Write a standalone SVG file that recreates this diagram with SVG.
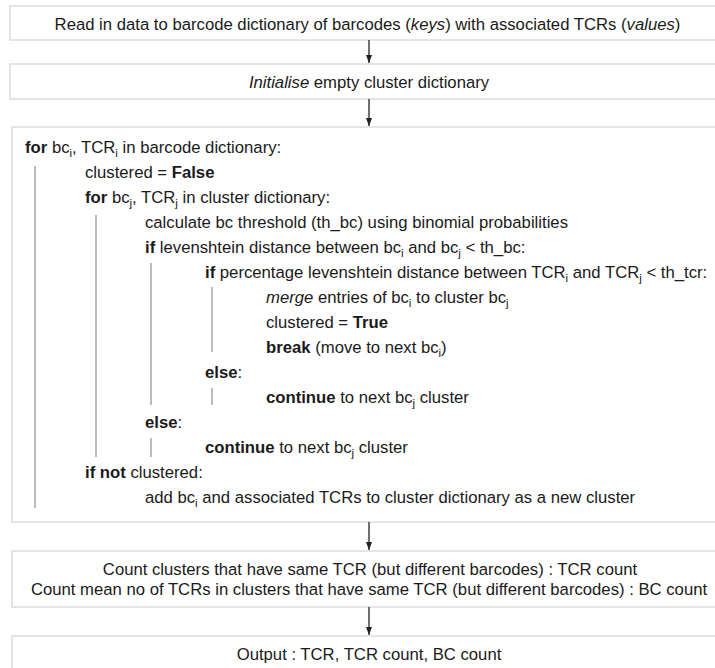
<svg xmlns="http://www.w3.org/2000/svg" width="715" height="668" viewBox="0 0 715 668">
<defs>
<marker id="ah" viewBox="0 0 8 10" refX="8" refY="5" markerWidth="8" markerHeight="10" markerUnits="userSpaceOnUse" orient="auto">
<path d="M0,2 L8,5 L0,8 Z" fill="#222"/>
</marker>
</defs>
<style>
.box{fill:#fff;stroke:#dcdcdc;stroke-width:1.5}
.t{font-family:"Liberation Sans",Arial,sans-serif;font-size:16.7px;fill:#1a1a1a}
.c{text-anchor:middle}
.b{font-weight:bold}
.i{font-style:italic}
.s{font-size:11.5px}
.g{stroke:#909090;stroke-width:1.2;fill:none}
.conn{stroke:#222;stroke-width:1.3;fill:none}
</style>
<rect width="715" height="668" fill="#fff"/>
<g id="n1">
<rect class="box" x="10" y="6" width="710" height="34"/>
<text class="t c" x="367.5" y="30">Read in data to barcode dictionary of barcodes (<tspan class="i">keys</tspan>) with associated TCRs (<tspan class="i">values</tspan>)</text>
</g>
<g id="n2">
<rect class="box" x="10" y="64" width="710" height="35"/>
<text class="t c" x="369" y="88"><tspan class="i">Initialise</tspan> empty cluster dictionary</text>
</g>
<g id="n3">
<rect class="box" x="12" y="127" width="708" height="395"/>
<text class="t" x="25" y="153"><tspan class="b">for</tspan> bc<tspan class="s" dy="4">i</tspan><tspan dy="-4">, TCR</tspan><tspan class="s" dy="4">i</tspan><tspan dy="-4"> in barcode dictionary:</tspan></text>
<text class="t" x="85" y="178">clustered = <tspan class="b">False</tspan></text>
<text class="t" x="85" y="203"><tspan class="b">for</tspan> bc<tspan class="s" dy="4">j</tspan><tspan dy="-4">, TCR</tspan><tspan class="s" dy="4">j</tspan><tspan dy="-4"> in cluster dictionary:</tspan></text>
<text class="t" x="145" y="228">calculate bc threshold (th_bc) using binomial probabilities</text>
<text class="t" x="145" y="253"><tspan class="b">if</tspan> levenshtein distance between bc<tspan class="s" dy="4">i</tspan><tspan dy="-4"> and bc</tspan><tspan class="s" dy="4">j</tspan><tspan dy="-4"> &lt; th_bc:</tspan></text>
<text class="t" x="205" y="278"><tspan class="b">if</tspan> percentage levenshtein distance between TCR<tspan class="s" dy="4">i</tspan><tspan dy="-4"> and TCR</tspan><tspan class="s" dy="4">j</tspan><tspan dy="-4"> &lt; th_tcr:</tspan></text>
<text class="t" x="266" y="303"><tspan class="i">merge</tspan> entries of bc<tspan class="s" dy="4">i</tspan><tspan dy="-4"> to cluster bc</tspan><tspan class="s" dy="4">j</tspan></text>
<text class="t" x="266" y="328">clustered = <tspan class="b">True</tspan></text>
<text class="t" x="266" y="353"><tspan class="b">break</tspan> (move to next bc<tspan class="s" dy="4">i</tspan><tspan dy="-4">)</tspan></text>
<text class="t" x="205" y="378"><tspan class="b">else</tspan>:</text>
<text class="t" x="266" y="403"><tspan class="b">continue</tspan> to next bc<tspan class="s" dy="4">j</tspan><tspan dy="-4"> cluster</tspan></text>
<text class="t" x="145" y="428"><tspan class="b">else</tspan>:</text>
<text class="t" x="205" y="453"><tspan class="b">continue</tspan> to next bc<tspan class="s" dy="4">j</tspan><tspan dy="-4"> cluster</tspan></text>
<text class="t" x="85" y="478"><tspan class="b">if not</tspan> clustered:</text>
<text class="t" x="145" y="503">add bc<tspan class="s" dy="4">i</tspan><tspan dy="-4"> and associated TCRs to cluster dictionary as a new cluster</tspan></text>
<line class="g" x1="35" y1="166" x2="35" y2="508"/>
<line class="g" x1="96" y1="215" x2="96" y2="457"/>
<line class="g" x1="151" y1="263" x2="151" y2="405"/>
<line class="g" x1="212" y1="287" x2="212" y2="352"/>
<line class="g" x1="212" y1="388" x2="212" y2="405"/>
<line class="g" x1="151" y1="438" x2="151" y2="457"/>
</g>
<g id="n4">
<rect class="box" x="12" y="551" width="708" height="56"/>
<text class="t c" x="370" y="575">Count clusters that have same TCR (but different barcodes) : TCR count</text>
<text class="t c" x="369" y="595">Count mean no of TCRs in clusters that have same TCR (but different barcodes) : BC count</text>
</g>
<g id="n5">
<rect class="box" x="12" y="636" width="708" height="40"/>
<text class="t c" x="369" y="660">Output : TCR, TCR count, BC count</text>
</g>
<g id="connectors">
<line class="conn" x1="369" y1="40" x2="369" y2="63" marker-end="url(#ah)"/>
<line class="conn" x1="369" y1="99" x2="369" y2="126" marker-end="url(#ah)"/>
<line class="conn" x1="369" y1="522" x2="369" y2="550" marker-end="url(#ah)"/>
<line class="conn" x1="369" y1="607" x2="369" y2="635" marker-end="url(#ah)"/>
</g>
</svg>
